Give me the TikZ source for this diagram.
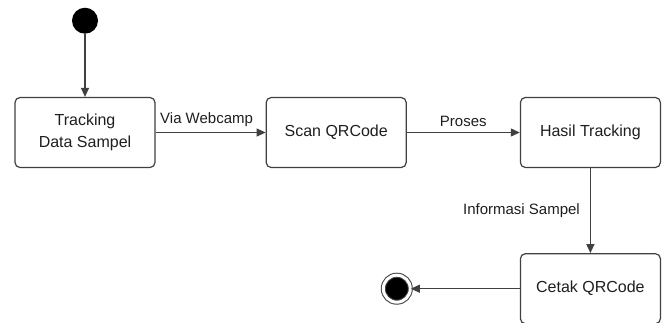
\documentclass[tikz,border=0pt]{standalone}
\usepackage{fontspec}
\setmainfont{Liberation Sans}
\usepackage{xcolor}
\usepackage{tikz}
\usetikzlibrary{positioning,arrows.meta}

\definecolor{lineGray}{HTML}{404040}
\definecolor{textGray}{HTML}{1E1E1E}

\begin{document}
\begin{tikzpicture}[x=1pt,y=1pt,>={Triangle[length=9pt,width=8pt]},
state/.style={rectangle,rounded corners=5pt,draw=lineGray,line width=1.2pt,
minimum width=140pt,minimum height=70pt,align=center,
text=textGray,font=\fontsize{16}{22}\selectfont},
start/.style={circle,fill=black,inner sep=0pt,minimum size=26pt},
stop/.style={circle,draw=lineGray,line width=1pt,fill=black,
double=white,double distance=3pt,inner sep=0pt,minimum size=27pt},
trans/.style={draw=lineGray,line width=1.2pt,->},
lbl/.style={text=textGray,font=\fontsize{15}{18}\selectfont}]
    \useasboundingbox (0,0) rectangle (663,-322);
    \node[state] (Node track) at (85,-132.5) {Tracking\\Data Sampel};
    \node[start] (Node init) [above=63pt of Node track] {};
    \node[state] (Node scan) [right=110pt of Node track] {Scan QRCode};
    \node[state] (Node hasil) [right=113pt of Node scan] {Hasil Tracking};
    \node[state] (Node cetak) [below=85pt of Node hasil] {Cetak QRCode};
    \node[stop] (Node end) [left=109pt of Node cetak] {};
    \draw [trans] (Node init) to (Node track);
    \draw [trans] (Node track) to node[lbl,above,inner sep=5pt,xshift=-4pt] {Via Webcamp} (Node scan);
    \draw [trans] (Node scan) to node[lbl,above,inner sep=5pt] {Proses} (Node hasil);
    \draw [trans] (Node hasil) to node[lbl,left,inner sep=10pt] {Informasi Sampel} (Node cetak);
    \draw [trans] (Node cetak) to (Node end);
\end{tikzpicture}
\end{document}
